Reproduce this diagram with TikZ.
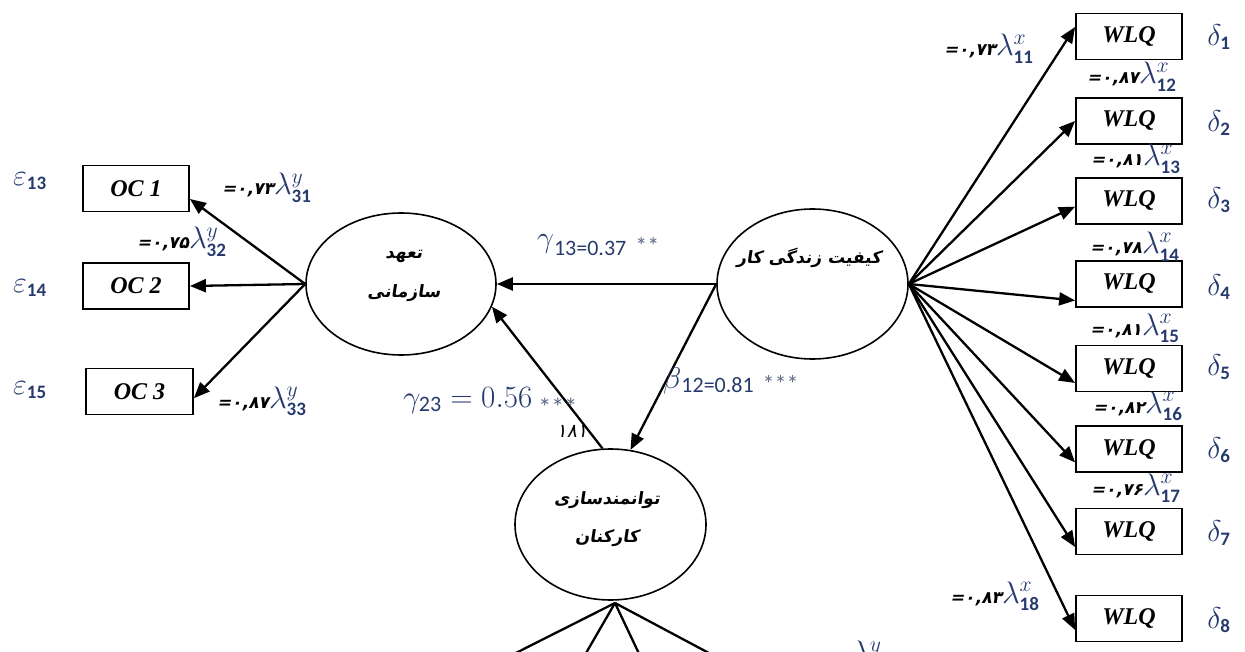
\documentclass[tikz,border=0pt]{standalone}
\usepackage{fix-cm}
\usepackage{fontspec}
\setmainfont{Liberation Serif}
\newfontfamily\fa[Script=Arabic,FakeSlant=0.15]{DejaVu Sans}
\newfontfamily\fadig[FakeSlant=0.2]{DejaVu Sans}
\newfontfamily\calib{Carlito}
\TeXXeTstate=1
\usetikzlibrary{shapes.geometric,arrows.meta}
\definecolor{mb}{RGB}{38,58,110}
\definecolor{st}{RGB}{95,105,135}
\newcommand{\lsub}[1]{\hbox{\calib\bfseries\fontsize{19}{19}\selectfont #1}}
\newcommand{\ldg}[3]{{\fadig\bfseries\fontsize{17}{18}\selectfont #1}{\color{mb}\fontsize{31}{31}\selectfont$\lambda^{#2}_{\lsub{#3}}$}}
\tikzset{
  lat/.style={ellipse, draw, line width=1.6pt, inner sep=0pt},
  obs/.style={rectangle, draw, line width=1.8pt, minimum height=46pt, inner sep=0pt,
    font=\fontsize{24}{26}\selectfont\bfseries\itshape},
  arr/.style={line width=2.3pt, -{Triangle[length=16pt,width=13pt]}},
  ln/.style={line width=2.3pt},
  lab/.style={inner sep=0pt, anchor=base west},
  gr/.style={inner sep=0pt, text=mb, font=\fontsize{30}{30}\selectfont},
  fat/.style={inner sep=0pt, align=center},
}
\begin{document}
\begin{tikzpicture}[x=1pt,y=-1pt]
\useasboundingbox (0,0) rectangle (1245,652);
% latent variables
\node[lat, minimum width=190pt, minimum height=142pt] (oc) at (401,284) {};
\node[lat, minimum width=191pt, minimum height=150pt] (kz) at (812.5,284) {};
\node[lat, minimum width=191pt, minimum height=151pt] (tav) at (610.5,524.5) {};
\node[fat, font=\fa\bfseries\fontsize{17}{39}\selectfont] (oct) at (404,276) {\beginR تعهد\endR\\\beginR سازمانی\endR};
\node[fat, font=\fa\bfseries\fontsize{17}{20}\selectfont] (kzt) at (809,258) {\beginR کیفیت زندگی کار\endR};
\node[fat, font=\fa\bfseries\fontsize{17}{38}\selectfont] (tavt) at (607,519) {\beginR توانمندسازی\endR\\\beginR کارکنان\endR};
% OC boxes
\node[obs, minimum width=106pt] (oc1) at (136,188.5) {OC 1};
\node[obs, minimum width=106pt] (oc2) at (136,286) {OC 2};
\node[obs, minimum width=107pt] (oc3) at (139.5,391.5) {OC 3};
\node[gr] (e13) at (30,181) {$\varepsilon_{\lsub{13}}$};
\node[gr] (e14) at (30,288) {$\varepsilon_{\lsub{14}}$};
\node[gr] (e15) at (30,390) {$\varepsilon_{\lsub{15}}$};
% WLQ boxes
\foreach \i/\y/\dy in {1/36.5/37, 2/121/123, 3/201/200, 4/284/287, 5/368.5/367, 6/449/450, 7/531.5/533, 8/618.5/620}{
  \node[obs, minimum width=106pt] (w\i) at (1129,\y) {WLQ};
  \node[gr] (d\i) at (1219,\dy) {$\delta_{\lsub{\i}}$};
}
% arrows from kz to WLQ
\draw[arr] (kz.east) -- (w1.170);
\draw[arr] (kz.east) -- (w2.west);
\draw[arr] (kz.east) -- (w3.186);
\draw[arr] (kz.east) -- (w4.197);
\draw[arr] (kz.east) -- (w5.195);
\draw[arr] (kz.east) -- (w6.194);
\draw[arr] (kz.east) -- (w7.196);
\draw[arr] (kz.east) -- (w8.192);
% arrows from oc to OC boxes
\draw[arr] (oc.west) -- (oc1.-11);
\draw[arr] (oc.west) -- (oc2.east);
\draw[arr] (oc.west) -- (oc3.-7);
% structural paths
\draw[arr] (kz.west) -- (oc.east);
\draw[arr] (kz.west) -- (tav.75);
\draw[arr] (tav.96) -- (oc.-14);
% lines below tav
\coordinate (b1) at (502,660);
\coordinate (b2) at (582,660);
\coordinate (b3) at (642,660);
\coordinate (b4) at (722,660);
\coordinate (tb) at (615,603);
\draw[ln] (tb) -- (b1);
\draw[ln] (tb) -- (b2);
\draw[ln] (tb) -- (b3);
\draw[ln] (tb) -- (b4);
% loading labels
\node[lab] (l11) at (944,56) {\ldg{=۰,۷۳}{x}{11}};
\node[lab] (l12) at (1087,84) {\ldg{=۰,۸۷}{x}{12}};
\node[lab] (l13) at (1091,166) {\ldg{=۰,۸۱}{x}{13}};
\node[lab] (l14) at (1090,254) {\ldg{=۰,۷۸}{x}{14}};
\node[lab] (l15) at (1090,335) {\ldg{=۰,۸۱}{x}{15}};
\node[lab] (l16) at (1093,413) {\ldg{=۰,۸۲}{x}{16}};
\node[lab] (l17) at (1091,495) {\ldg{=۰,۷۶}{x}{17}};
\node[lab] (l18) at (950,603) {\ldg{=۰,۸۳}{x}{18}};
\node[lab] (l31) at (222,195) {\ldg{=۰,۷۳}{y}{31}};
\node[lab] (l32) at (137,249) {\ldg{=۰,۷۵}{y}{32}};
\node[lab] (l33) at (217,408) {\ldg{=۰,۸۷}{y}{33}};
\node[inner sep=0pt, anchor=north west, text=mb, font=\fontsize{31}{31}\selectfont] (lpart) at (852,641) {$\lambda^{y}$};
% path coefficients
\node[lab] (g13) at (537,248) {\color{mb}\fontsize{30}{30}\selectfont$\gamma$\raisebox{-8pt}{\calib\fontsize{22}{22}\selectfont 13=0.37}\hspace{9pt}\raisebox{-7pt}{\color{st}\calib\fontsize{24}{24}\selectfont **}};
\node[lab] (g23) at (403,407) {\color{mb}\fontsize{31}{32}\selectfont$\gamma_{\hbox{\calib\fontsize{22}{22}\selectfont 23}}=0.56$\hspace{6pt}\raisebox{-9pt}{\color{st}\calib\fontsize{26}{26}\selectfont ***}};
\node[lab] (b12) at (663,388) {\color{mb}\fontsize{30}{30}\selectfont$\beta$\raisebox{-5pt}{\calib\fontsize{22}{22}\selectfont 12=0.81}\hspace{9pt}\raisebox{-5pt}{\color{st}\calib\fontsize{24}{24}\selectfont ***}};
\node[inner sep=0pt, font=\fadig\fontsize{19}{20}\selectfont] (n181) at (572,431) {۱۸۱};
\end{tikzpicture}
\end{document}
